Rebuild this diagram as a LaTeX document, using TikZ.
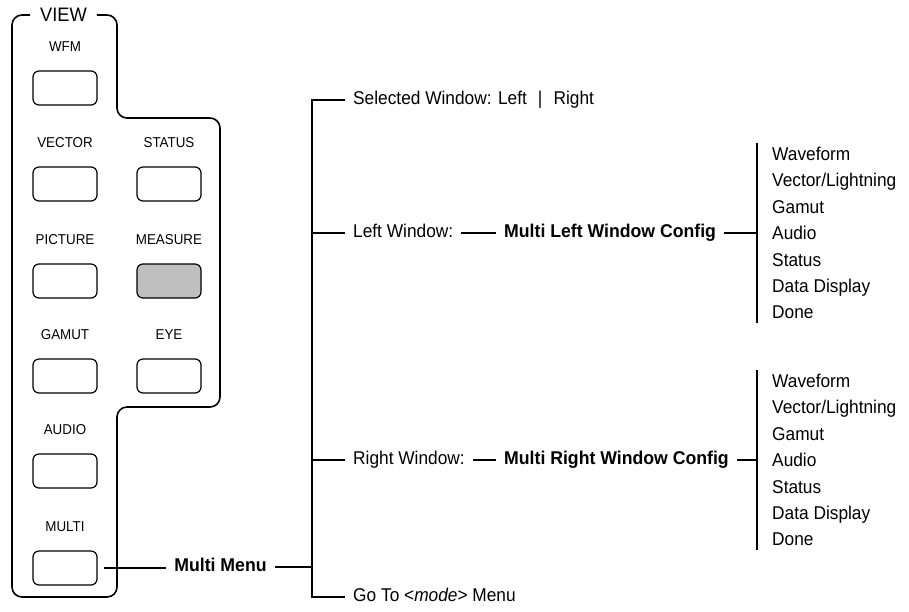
\documentclass[tikz,border=0pt]{standalone}
\usepackage{fontspec}
\setmainfont{Liberation Sans}[FakeStretch=0.935, BoldFeatures={FakeStretch=0.955}]
\usetikzlibrary{positioning}

\tikzset{
  panel/.style={line width=1.6pt, rounded corners=10pt},
  keybtn/.style={draw, line width=1.2pt, rounded corners=6pt, minimum width=64pt, minimum height=34pt, inner sep=0pt},
  keylbl/.style={font=\fontsize{14.3}{16}\selectfont, inner sep=0pt},
  menutxt/.style={font=\fontsize{18.5}{22}\selectfont, inner xsep=8pt, inner ysep=2pt, text height=13.3pt, text depth=3.8pt},
  menubold/.style={menutxt, font=\fontsize{18.5}{22}\selectfont\bfseries},
  optlist/.style={font=\fontsize{18.5}{26.4}\selectfont, align=left, inner xsep=15pt, inner ysep=3.5pt, anchor=west},
  conn/.style={line width=1.2pt},
}

\begin{document}
\begin{tikzpicture}[x=1pt, y=-1pt]
  \useasboundingbox (0,0) rectangle (909,611);

  % front panel
  \node[font=\fontsize{19.5}{22}\selectfont, inner xsep=10pt, inner ysep=0pt] (view) at (63.5,15) {VIEW};
  \draw[panel] (view.east) -- (117,15) -- (117,118) -- (220,118) -- (220,407) -- (117,407)
    -- (117,597) -- (12,597) -- (12,15) -- (view.west);

  \foreach \nm/\x/\y/\txt/\fc in {wfm/65/88/WFM/white, vector/65/184/VECTOR/white,
      status/169/184/STATUS/white, picture/65/281/PICTURE/white, measure/169/281/MEASURE/black!25,
      gamut/65/376/GAMUT/white, eye/169/376/EYE/white, audio/65/471/AUDIO/white, multi/65/568/MULTI/white}
  {
    \node[keybtn, fill=\fc] (b\nm) at (\x,\y) {};
    \node[keylbl, above=19pt of b\nm] (l\nm) {\txt};
  }

  % menu tree
  \node[menubold] (mmenu) at (220.5,567) {Multi Menu};
  \draw[conn, shorten <=6pt] (bmulti.east) -- (bmulti.east -| mmenu.west);

  \node[menutxt, anchor=west] (sel) at (345,100) {Selected Window: Left\hspace{0.6em}|\hspace{0.6em}Right};
  \node[menutxt, anchor=west] (lwin) at (345,233) {Left Window:};
  \node[menubold, anchor=west] (lcfg) at (496,233) {Multi Left Window Config};
  \node[optlist] (lopts) at (757,233) {Waveform\\Vector/Lightning\\Gamut\\Audio\\Status\\Data Display\\Done};
  \node[menutxt, anchor=west] (rwin) at (345,460) {Right Window:};
  \node[menubold, anchor=west] (rcfg) at (496,460) {Multi Right Window Config};
  \node[optlist] (ropts) at (757,460) {Waveform\\Vector/Lightning\\Gamut\\Audio\\Status\\Data Display\\Done};
  \node[menutxt, anchor=west] (goto) at (345,597) {Go To <\textit{mode}> Menu};

  \coordinate (ttop) at (312,100);
  \coordinate (tbot) at (312,597);
  \draw[conn] (sel.west) -- (ttop) -- (tbot) -- (goto.west);
  \draw[conn] (lwin.west) -- (lwin.west -| ttop);
  \draw[conn] (rwin.west) -- (rwin.west -| ttop);
  \draw[conn] (mmenu.east) -- (mmenu.east -| ttop);

  \draw[conn] (lwin.east) -- (lcfg.west);
  \draw[conn] (lcfg.east) -- (lopts.west);
  \draw[conn] (lopts.north west) -- (lopts.south west);
  \draw[conn] (rwin.east) -- (rcfg.west);
  \draw[conn] (rcfg.east) -- (ropts.west);
  \draw[conn] (ropts.north west) -- (ropts.south west);
\end{tikzpicture}
\end{document}
